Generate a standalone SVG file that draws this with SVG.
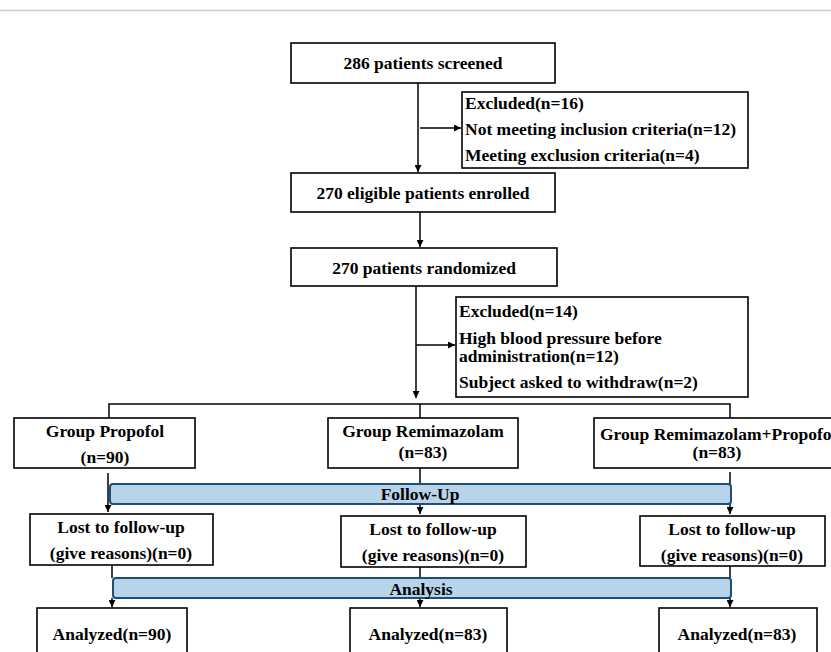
<svg xmlns="http://www.w3.org/2000/svg" width="831" height="652" viewBox="0 0 831 652">
<defs>
<style>
.box{fill:#fff;stroke:#000;stroke-width:1.6}
.bar{fill:#b8d4ea;stroke:#1f4e79;stroke-width:2}
.t{font-family:"Liberation Serif","Times New Roman",serif;font-weight:bold;font-size:17.5px;fill:#000}
.c{text-anchor:middle}
.ln{fill:none;stroke:#000;stroke-width:1.5}
</style>
<marker id="ah" viewBox="0 0 10 10" refX="10" refY="5" markerWidth="7" markerHeight="7" markerUnits="userSpaceOnUse" orient="auto"><path d="M0,0L10,5L0,10z" fill="#000"/></marker>
</defs>
<rect x="0" y="0" width="831" height="652" fill="#fff"/>
<line x1="0" y1="10.5" x2="831" y2="10.5" stroke="#cfcfcf" stroke-width="1.5"/>
<g id="connectors">
<path class="ln" d="M418,83 V172" marker-end="url(#ah)"/>
<path class="ln" d="M420,128 H461" marker-end="url(#ah)"/>
<path class="ln" d="M420,212 V247" marker-end="url(#ah)"/>
<path class="ln" d="M416,286 V398" marker-end="url(#ah)"/>
<path class="ln" d="M416,345 H455" marker-end="url(#ah)"/>
<path class="ln" d="M109,418 V404 H730 V418"/>
<path class="ln" d="M420,404 V418"/>
<path class="ln" d="M108,473 V512" marker-end="url(#ah)"/>
<path class="ln" d="M420,468 V484"/>
<path class="ln" d="M420,504 V514" marker-end="url(#ah)"/>
<path class="ln" d="M730,472 V484"/>
<path class="ln" d="M730,504 V514" marker-end="url(#ah)"/>
<path class="ln" d="M112,566 V578"/>
<path class="ln" d="M112,598 V607" marker-end="url(#ah)"/>
<path class="ln" d="M420,567 V578"/>
<path class="ln" d="M420,598 V607" marker-end="url(#ah)"/>
<path class="ln" d="M730,566 V578"/>
<path class="ln" d="M730,598 V607" marker-end="url(#ah)"/>
</g>
<g id="screened"><rect class="box" x="291" y="43" width="264" height="40"/><text class="t c" x="423" y="69">286 patients screened</text></g>
<g id="excluded1"><rect class="box" x="462" y="92" width="286" height="76"/>
<text class="t" x="465" y="109">Excluded(n=16)</text>
<text class="t" x="465" y="135">Not meeting inclusion  criteria(n=12)</text>
<text class="t" x="465" y="161">Meeting exclusion criteria(n=4)</text></g>
<g id="enrolled"><rect class="box" x="291" y="173" width="264" height="39"/><text class="t c" x="423" y="199">270 eligible patients enrolled</text></g>
<g id="randomized"><rect class="box" x="291" y="248" width="266" height="38"/><text class="t c" x="424" y="274">270 patients randomized</text></g>
<g id="excluded2"><rect class="box" x="456" y="297" width="292" height="100"/>
<text class="t" x="459" y="317">Excluded(n=14)</text>
<text class="t" x="459" y="344">High blood pressure before</text>
<text class="t" x="459" y="362">administration(n=12)</text>
<text class="t" x="459" y="388">Subject asked to withdraw(n=2)</text></g>
<g id="g-propofol"><rect class="box" x="14" y="418" width="181" height="50"/><text class="t c" x="105" y="437">Group Propofol</text><text class="t c" x="105" y="463">(n=90)</text></g>
<g id="g-remi"><rect class="box" x="328" y="418" width="190" height="50"/><text class="t c" x="423" y="437">Group Remimazolam</text><text class="t c" x="423" y="458">(n=83)</text></g>
<g id="g-remiprop"><rect class="box" x="594" y="418" width="245" height="50"/><text class="t" x="600" y="440">Group Remimazolam+Propofol</text><text class="t c" x="717" y="458">(n=83)</text></g>
<g id="followup"><rect class="bar" x="110" y="484" width="621" height="20" rx="3"/><text class="t c" x="420" y="500">Follow-Up</text></g>
<g id="lost1"><rect class="box" x="30" y="514" width="183" height="51"/><text class="t c" x="121" y="533">Lost to follow-up</text><text class="t c" x="121" y="559">(give reasons)(n=0)</text></g>
<g id="lost2"><rect class="box" x="341" y="516" width="185" height="51"/><text class="t c" x="433" y="535">Lost to follow-up</text><text class="t c" x="433" y="561">(give reasons)(n=0)</text></g>
<g id="lost3"><rect class="box" x="640" y="516" width="185" height="50"/><text class="t c" x="732" y="535">Lost to follow-up</text><text class="t c" x="732" y="561">(give reasons)(n=0)</text></g>
<g id="analysis"><rect class="bar" x="113" y="578" width="618" height="20" rx="3"/><text class="t c" x="421" y="595">Analysis</text></g>
<g id="an1"><rect class="box" x="37" y="608" width="150" height="60"/><text class="t c" x="112" y="640">Analyzed(n=90)</text></g>
<g id="an2"><rect class="box" x="350" y="608" width="157" height="60"/><text class="t c" x="428" y="640">Analyzed(n=83)</text></g>
<g id="an3"><rect class="box" x="659" y="608" width="158" height="60"/><text class="t c" x="737" y="640">Analyzed(n=83)</text></g>
</svg>
